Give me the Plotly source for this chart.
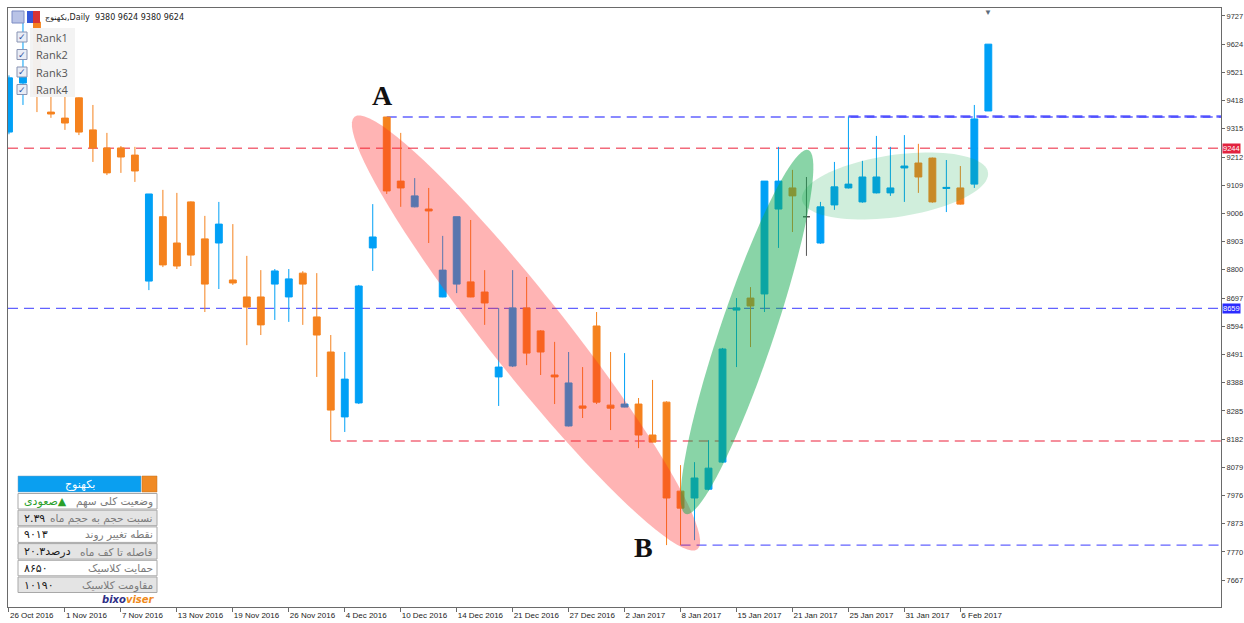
import math
import plotly.graph_objects as go

# ---------------- data ----------------
dates = ["2016-10-26", "2016-10-29", "2016-10-30", "2016-10-31", "2016-11-01", "2016-11-02",
         "2016-11-05", "2016-11-06", "2016-11-07", "2016-11-08", "2016-11-09", "2016-11-12",
         "2016-11-13", "2016-11-14", "2016-11-15", "2016-11-16", "2016-11-19", "2016-11-20",
         "2016-11-21", "2016-11-22", "2016-11-26", "2016-11-27", "2016-11-28", "2016-12-03",
         "2016-12-04", "2016-12-05", "2016-12-06", "2016-12-07", "2016-12-10", "2016-12-11",
         "2016-12-12", "2016-12-13", "2016-12-14", "2016-12-17", "2016-12-18", "2016-12-19",
         "2016-12-21", "2016-12-24", "2016-12-25", "2016-12-26", "2016-12-27", "2016-12-28",
         "2016-12-31", "2017-01-01", "2017-01-02", "2017-01-03", "2017-01-04", "2017-01-07",
         "2017-01-08", "2017-01-09", "2017-01-10", "2017-01-11", "2017-01-15", "2017-01-16",
         "2017-01-17", "2017-01-18", "2017-01-21", "2017-01-22", "2017-01-23", "2017-01-24",
         "2017-01-25", "2017-01-28", "2017-01-29", "2017-01-30", "2017-01-31", "2017-02-01",
         "2017-02-04", "2017-02-05", "2017-02-06", "2017-02-07", "2017-02-08"]

opens = [9303, 9482, 9705, 9376, 9354, 9428, 9311, 9245, 9245, 9219,
         8759, 8994, 8898, 9048, 8913, 8898, 8763, 8701, 8701, 8748,
         8701, 8788, 8628, 8500, 8263, 8314, 8880, 9358, 9124, 9030,
         9022, 8701, 8748, 8756, 8719, 8409, 8449, 8661, 8577, 8416,
         8230, 8303, 8595, 8306, 8299, 8310, 8197, 8317, 7992, 7967,
         7999, 8098, 8653, 8697, 8712, 9022, 9099, 8994, 8898, 9037,
         9099, 9048, 9081, 9081, 9172, 9190, 9208, 9097, 9099, 9113,
         9380]
highs = [9510, 9712, 9712, 9455, 9450, 9430, 9402, 9300, 9252, 9249,
         9077, 9092, 9081, 9050, 8997, 9048, 8967, 8851, 8799, 8803,
         8803, 8795, 8788, 8562, 8500, 8745, 9040, 9358, 9300, 9135,
         9099, 8924, 8994, 8982, 8799, 8661, 8799, 8774, 8580, 8537,
         8500, 8445, 8646, 8500, 8496, 8332, 8398, 8320, 8087, 8098,
         8178, 8515, 8697, 8737, 9124, 9249, 9165, 9139, 9048, 9194,
         9360, 9198, 9289, 9249, 9292, 9260, 9210, 9201, 9179, 9402,
         9624]
lows = [9295, 9402, 9376, 9355, 9311, 9292, 9194, 9146, 9154, 9121,
        8726, 8810, 8803, 8814, 8646, 8730, 8745, 8525, 8562, 8617,
        8610, 8599, 8409, 8175, 8208, 8310, 8796, 9077, 9030, 9028,
        8898, 8700, 8715, 8700, 8599, 8303, 8445, 8452, 8416, 8310,
        8228, 8259, 8310, 8215, 8298, 8149, 8170, 7795, 7795, 7813,
        7995, 8095, 8445, 8518, 8646, 8880, 8938, 8851, 8895, 9019,
        9097, 9045, 9079, 9070, 9048, 9081, 9045, 9011, 9038, 9099,
        9380]
closes = [9501, 9508, 9440, 9369, 9336, 9303, 9245, 9154, 9212, 9161,
          9077, 8818, 8814, 8854, 8748, 8967, 8752, 8664, 8599, 8796,
          8767, 8748, 8562, 8288, 8401, 8741, 8920, 9088, 9099, 9070,
          9015, 8799, 8994, 8701, 8679, 8445, 8661, 8496, 8500, 8409,
          8387, 8295, 8317, 8295, 8310, 8197, 8171, 7967, 7930, 8040,
          8076, 8511, 8661, 8668, 9124, 9124, 9070, 8994, 9030, 9103,
          9113, 9139, 9139, 9099, 9179, 9139, 9048, 9101, 9040, 9351,
          9624]

tick_labels = ["26 Oct 2016", "1 Nov 2016", "7 Nov 2016", "13 Nov 2016", "19 Nov 2016",
               "26 Nov 2016", "4 Dec 2016", "10 Dec 2016", "14 Dec 2016", "21 Dec 2016",
               "27 Dec 2016", "2 Jan 2017", "8 Jan 2017", "15 Jan 2017", "21 Jan 2017",
               "25 Jan 2017", "31 Jan 2017", "6 Feb 2017"]
price_ticks = [7667, 7770, 7873, 7976, 8079, 8182, 8285, 8388, 8491, 8594, 8697,
               8800, 8903, 9006, 9109, 9212, 9315, 9418, 9521, 9624, 9727]

red_level = 9244
blue_level = 8659
A_IDX, B_IDX, SUP_IDX, RES_IDX = 27, 48, 23, 60

symbol_name = "بکهنوج"
rank_labels = ["Rank1", "Rank2", "Rank3", "Rank4"]
table_labels = ["وضعیت کلی سهم", "نسبت حجم به حجم ماه", "نقطه تغییر روند",
                "فاصله تا کف ماه", "حمایت کلاسیک", "مقاومت کلاسیک"]
table_values = ["صعودی▲", "۲.۳۹", "۹۰۱۳", "۲۰.۳درصد", "۸۶۵۰", "۱۰۱۹۰"]

# ---------------- style / geometry ----------------
W, H = 1244, 623
PX_L, PX_R, PX_T, PX_B = 8, 1221, 8, 607
XR = [-0.07, 86.63]
YR = [7569, 9756]
BLUE = "#00A0F6"
ORANGE = "#F5821E"
RED_LINE = "rgba(240,80,100,0.85)"
BLUE_LINE = "rgba(70,70,255,0.85)"
DASH = "10px,6px"


def px_x(px):
    return XR[0] + (px - PX_L) / (PX_R - PX_L) * (XR[1] - XR[0])


def px_y(py):
    return YR[1] - (py - PX_T) / (PX_B - PX_T) * (YR[1] - YR[0])


def pap_x(px):
    return (px - PX_L) / (PX_R - PX_L)


def pap_y(py):
    return 1 - (py - PX_T) / (PX_B - PX_T)


def ellipse_path(cx, cy, a, b, ang_deg, n=90):
    t = math.radians(ang_deg)
    pts = []
    for k in range(n):
        u = 2 * math.pi * k / n
        ex, ey = a * math.cos(u), b * math.sin(u)
        px = cx + ex * math.cos(t) - ey * math.sin(t)
        py = cy + ex * math.sin(t) + ey * math.cos(t)
        pts.append(f"{px_x(px):.4f},{px_y(py):.2f}")
    return "M " + " L ".join(pts) + " Z"


n = len(dates)
xs = list(range(n))
doji = [i for i in xs if opens[i] == closes[i]]
main = [i for i in xs if i not in doji]

fig = go.Figure()
fig.add_trace(go.Candlestick(
    x=[xs[i] for i in main], open=[opens[i] for i in main], high=[highs[i] for i in main],
    low=[lows[i] for i in main], close=[closes[i] for i in main],
    text=[dates[i] for i in main], hoverinfo="text+y",
    increasing=dict(line=dict(color=BLUE, width=1), fillcolor=BLUE),
    decreasing=dict(line=dict(color=ORANGE, width=1), fillcolor=ORANGE),
    whiskerwidth=0, showlegend=False))
fig.add_trace(go.Candlestick(
    x=[xs[i] for i in doji], open=[opens[i] for i in doji], high=[highs[i] for i in doji],
    low=[lows[i] for i in doji], close=[closes[i] for i in doji],
    text=[dates[i] for i in doji], hoverinfo="text+y",
    increasing=dict(line=dict(color="#555555", width=1), fillcolor="#555555"),
    decreasing=dict(line=dict(color="#555555", width=1), fillcolor="#555555"),
    whiskerwidth=0, showlegend=False))

shapes = []
# horizontal levels
shapes.append(dict(type="line", xref="paper", yref="y", x0=0, x1=1, y0=red_level, y1=red_level,
                   line=dict(color=RED_LINE, width=1.3, dash=DASH), layer="below"))
shapes.append(dict(type="line", xref="paper", yref="y", x0=0, x1=1, y0=blue_level, y1=blue_level,
                   line=dict(color=BLUE_LINE, width=1.3, dash=DASH), layer="below"))
shapes.append(dict(type="line", xref="x", yref="y", x0=A_IDX, x1=XR[1], y0=highs[A_IDX], y1=highs[A_IDX],
                   line=dict(color=BLUE_LINE, width=1.3, dash=DASH), layer="below"))
shapes.append(dict(type="line", xref="x", yref="y", x0=RES_IDX, x1=XR[1], y0=highs[RES_IDX], y1=highs[RES_IDX],
                   line=dict(color=BLUE_LINE, width=2.6, dash=DASH), layer="below"))
shapes.append(dict(type="line", xref="x", yref="y", x0=SUP_IDX, x1=XR[1], y0=lows[SUP_IDX], y1=lows[SUP_IDX],
                   line=dict(color=RED_LINE, width=1.3, dash=DASH), layer="below"))
shapes.append(dict(type="line", xref="x", yref="y", x0=B_IDX, x1=XR[1], y0=lows[B_IDX], y1=lows[B_IDX],
                   line=dict(color=BLUE_LINE, width=1.3, dash=DASH), layer="below"))

# highlight ellipses
shapes.append(dict(type="path", xref="x", yref="y", path=ellipse_path(526, 333, 276, 39, 51.6),
                   fillcolor="rgba(255,40,40,0.35)", line=dict(width=0), layer="above"))
shapes.append(dict(type="path", xref="x", yref="y", path=ellipse_path(747, 332, 192, 27, -71.4),
                   fillcolor="rgba(20,170,80,0.5)", line=dict(width=0), layer="above"))
shapes.append(dict(type="path", xref="x", yref="y", path=ellipse_path(895, 186, 94, 31, -8.3),
                   fillcolor="rgba(20,170,80,0.2)", line=dict(width=0), layer="above"))


def rect_px(x0, y0, x1, y1, fill, line="rgba(0,0,0,0)", lw=0):
    shapes.append(dict(type="rect", xref="paper", yref="paper", x0=pap_x(x0), x1=pap_x(x1),
                       y0=pap_y(y1), y1=pap_y(y0), fillcolor=fill,
                       line=dict(color=line, width=lw), layer="above"))


annotations = []


def text_px(x, y, text, size=9, color="#333", anchor="left", family="DejaVu Sans", **kw):
    annotations.append(dict(xref="paper", yref="paper", x=pap_x(x), y=pap_y(y), text=text,
                            showarrow=False, xanchor=anchor, yanchor="middle",
                            font=dict(size=size, color=color, family=family), **kw))


# header icons + text
rect_px(12, 11, 24, 23, "#b9c3e6", "#7d8cc4", 1)
rect_px(27, 11, 33, 23, "#3558d8")
rect_px(33, 11, 40, 23, "#d83434")
text_px(43, 17, f"{symbol_name},Daily  {opens[-1]} {highs[-1]} {lows[-1]} {closes[-1]}",
        size=8, color="#222")

# rank legend
rect_px(30, 28, 75, 97, "rgba(243,243,243,0.97)")
for k, lab in enumerate(rank_labels):
    cy = 37 + k * 17.5
    rect_px(17, cy - 5, 27, cy + 5, "#e9edf6", "#8893b2", 1)
    text_px(22, cy, "✓", size=9, color="#2f4f9f", anchor="center")
    text_px(34, cy, lab, size=11, color="#555", family="Open Sans")

# info table
TL, TR, TT = 18, 157, 476
rect_px(TL, TT, 141, TT + 16, "#0a9ff0", "#7aa0c0", 0.5)
rect_px(142, TT, TR, TT + 16, "#f08a24", "#c07020", 0.5)
text_px(80, TT + 8, symbol_name, size=11, color="white", anchor="center")
for r, (lab, val) in enumerate(zip(table_labels, table_values)):
    y0 = TT + 17 + r * 16.7
    rect_px(TL, y0 + 0.5, TR, y0 + 16, "#ffffff" if r % 2 == 0 else "#e4e4e4", "#a8a8a8", 1)
    text_px(155, y0 + 8.5, lab, size=10.5, color="#7a7a7a", anchor="right")
    text_px(22, y0 + 8.5, val, size=11, color="#2aa02a" if r == 0 else "#1a1a1a", anchor="left")
text_px(157, 599, "<b><i><span style='color:#2e2e86'>bixo</span>"
        "<span style='color:#f08a1c'>viser</span></i></b>", size=10, anchor="right")

# A / B labels
annotations.append(dict(x=A_IDX, y=highs[A_IDX], xref="x", yref="y", text="<b>A</b>", showarrow=False,
                        xshift=-4, yshift=22, font=dict(family="Liberation Serif", size=28, color="#111")))
annotations.append(dict(x=B_IDX, y=lows[B_IDX], xref="x", yref="y", text="<b>B</b>", showarrow=False,
                        xshift=-37, yshift=-2, font=dict(family="Liberation Serif", size=28, color="#111")))

# price tags on the right axis
for lvl, col in ((red_level, "#e2223e"), (blue_level, "#2b2bff")):
    annotations.append(dict(xref="paper", yref="y", x=1, y=lvl, text=str(lvl), showarrow=False,
                            xanchor="left", yanchor="middle", bgcolor=col, borderpad=0, xshift=1,
                            font=dict(size=7.5, color="white", family="Liberation Sans")))

# small marker above the last bar
annotations.append(dict(x=xs[-1], y=1, xref="x", yref="paper", text="▼", showarrow=False,
                        yanchor="top", yshift=4, font=dict(size=8, color="#5d6b7a")))

fig.update_layout(
    width=W, height=H,
    margin=dict(l=PX_L, r=W - PX_R, t=PX_T, b=H - PX_B, pad=0, autoexpand=False),
    paper_bgcolor="white", plot_bgcolor="white",
    shapes=shapes, annotations=annotations,
    showlegend=False, hovermode="closest",
    xaxis=dict(range=XR, showgrid=False, zeroline=False, showline=True, linecolor="#6a6a6a",
               linewidth=1, mirror=True, ticks="outside", ticklen=4, tickcolor="#6a6a6a",
               tickvals=[xs[i] for i in range(0, 4 * len(tick_labels), 4)], ticktext=tick_labels,
               ticklabelposition="outside right", automargin=False,
               tickfont=dict(size=8, color="#222", family="Liberation Sans"),
               rangeslider=dict(visible=False), fixedrange=True),
    yaxis=dict(range=YR, side="right", showgrid=False, zeroline=False, showline=True,
               linecolor="#6a6a6a", linewidth=1, mirror=True, ticks="outside", ticklen=3,
               tickcolor="#6a6a6a", tickvals=price_ticks, automargin=False, ticklabelstandoff=0,
               tickfont=dict(size=7.5, color="#333", family="Liberation Sans"), fixedrange=True),
)

fig.write_html("out.html", config={"displayModeBar": False},
               post_script="document.body.style.margin='0';document.body.style.overflow='hidden';")
